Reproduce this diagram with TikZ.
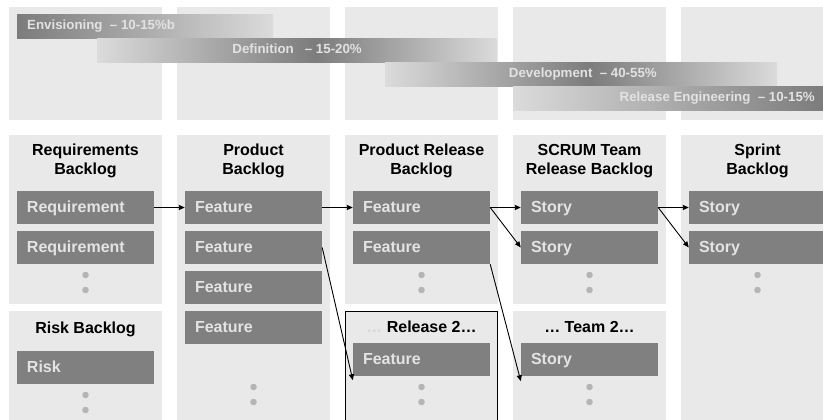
\documentclass[tikz,border=0pt]{standalone}
\usepackage{fontspec}
\setmainfont{Liberation Sans}
\usetikzlibrary{arrows.meta}

\definecolor{panelgray}{HTML}{E9E9E9}
\definecolor{boxgray}{HTML}{808080}
\definecolor{boxtext}{HTML}{E4E4E4}
\definecolor{dotgray}{HTML}{B4B4B4}
\definecolor{barlight}{HTML}{DBDBDB}
\definecolor{bardark}{HTML}{7C7C7C}
\definecolor{bartext}{HTML}{E2E2E2}
\definecolor{fadedots}{HTML}{D6D6D6}

\begin{document}
\begin{tikzpicture}[
    x=1pt, y=-1pt,
    every node/.style={font=\bfseries},
    >={Triangle[length=6pt,width=5pt]},
    barlabel/.style={font=\fontsize{13.3}{15}\selectfont\bfseries, text=bartext, inner sep=0pt},
    head/.style={font=\fontsize{16}{19}\selectfont\bfseries, align=center, inner sep=0pt},
    item/.style={fill=boxgray, text=boxtext, font=\fontsize{16}{19}\selectfont\bfseries,
        text width=117pt, inner xsep=10pt, inner ysep=0pt, minimum height=33pt,
        text height=11pt, text depth=1pt, align=left},
    dot/.style={circle, fill=dotgray, inner sep=0pt, minimum size=6.5pt},
    link/.style={->, line width=0.9pt},
]

\useasboundingbox (0,0) rectangle (823,420);
\clip (0,0) rectangle (823,420);

% === Column panels ===
\def\colW{153}
% top row (phases)
\foreach \xl in {9,177,345,513,681} {
    \fill[panelgray] (\xl,7) rectangle ({\xl+\colW},120);
}
% backlog row
\fill[panelgray] (9,135) rectangle (162,304);
\fill[panelgray] (9,311) rectangle (162,420);
\fill[panelgray] (177,135) rectangle (330,420);
\fill[panelgray] (345,135) rectangle (498,304);
\fill[panelgray] (345,311) rectangle (498,420);
\fill[panelgray] (513,135) rectangle (666,304);
\fill[panelgray] (513,311) rectangle (666,420);
\fill[panelgray] (681,135) rectangle (834,420);

% === Phase bars (gradients) ===
\shade[left color=bardark, right color=barlight] (17,15) rectangle (273,39);
\shade[left color=barlight, right color=bardark] (97,39) rectangle (315.5,63);
\shade[left color=bardark, right color=barlight] (315,39) rectangle (497,63);
\shade[left color=barlight, right color=bardark] (385,63) rectangle (590.5,87);
\shade[left color=bardark, right color=barlight] (590,63) rectangle (777,87);
\shade[left color=barlight, right color=bardark] (513,87) rectangle (823,111);

\node[barlabel, anchor=base west] (envis) at (27,30) {Envisioning\ \ – 10-15\%b};
\node[barlabel, anchor=base east] (defin) at (362,54) {Definition\ \ \ – 15-20\%};
\node[barlabel, anchor=base east] (devel) at (657,78) {Development\ \ – 40-55\%};
\node[barlabel, anchor=base east] (releng) at (815,102) {Release Engineering\ \ – 10-15\%};

% === Backlog headers ===
% (base = baseline of the last line)
\node[head, anchor=base] (reqhead) at (85.5,175) {Requirements\\Backlog};
\node[head, anchor=base] (prodhead) at (253.5,175) {Product\\Backlog};
\node[head, anchor=base] (relhead) at (421.5,175) {Product Release\\Backlog};
\node[head, anchor=base] (teamhead) at (589.5,175) {SCRUM Team\\Release Backlog};
\node[head, anchor=base] (sprhead) at (757.5,175) {Sprint\\Backlog};
\node[head, anchor=base] (riskhead) at (85.5,333) {Risk Backlog};
\node[head, anchor=base] (rel2head) at (421.5,332.5) {\textcolor{fadedots}{…} Release 2…};
\node[head, anchor=base] (team2head) at (589.5,332.5) {… Team 2…};

% Release 2 frame
\draw[line width=1.1pt] (345.5,425) -- (345.5,311.5) -- (497.5,311.5) -- (497.5,425);

% === Backlog items ===
\node[item] (req1) at (85.5,207.5) {Requirement};
\node[item] (req2) at (85.5,247.5) {Requirement};
\node[item] (risk1) at (85.5,367.5) {Risk};

\foreach \yrow [count=\i] in {207.5,247.5,287.5,327.5} {
    \node[item] (pfeat\i) at (253.5,\yrow) {Feature};
}

\node[item] (rfeat1) at (421.5,207.5) {Feature};
\node[item] (rfeat2) at (421.5,247.5) {Feature};
\node[item] (r2feat) at (421.5,359.5) {Feature};

\node[item] (tstory1) at (589.5,207.5) {Story};
\node[item] (tstory2) at (589.5,247.5) {Story};
\node[item] (t2story) at (589.5,359.5) {Story};

\node[item] (sstory1) at (757.5,207.5) {Story};
\node[item] (sstory2) at (757.5,247.5) {Story};

% "more items" dots
\foreach \cx/\cy [count=\i] in {85.5/275, 421.5/275, 589.5/275, 757.5/275,
        253.5/387, 85.5/395, 421.5/387, 589.5/387} {
    \node[dot] (dot\i a) at (\cx,\cy) {};
    \node[dot] (dot\i b) at ({\cx},{\cy+15}) {};
}

% === Flow between backlogs ===
\draw[link] (req1) -- (pfeat1);
\draw[link] (pfeat1) -- (rfeat1);
\draw[link] (pfeat2.east) -- ([yshift=-4pt]r2feat.south west);
\draw[link] (rfeat1.east) -- (tstory1.west);
\draw[link] (rfeat1.east) -- (tstory2.west);
\draw[link] (rfeat2.south east) -- ([yshift=-5pt]t2story.south west);
\draw[link] (tstory1.east) -- (sstory1.west);
\draw[link] (tstory1.east) -- (sstory2.west);

\end{tikzpicture}
\end{document}
